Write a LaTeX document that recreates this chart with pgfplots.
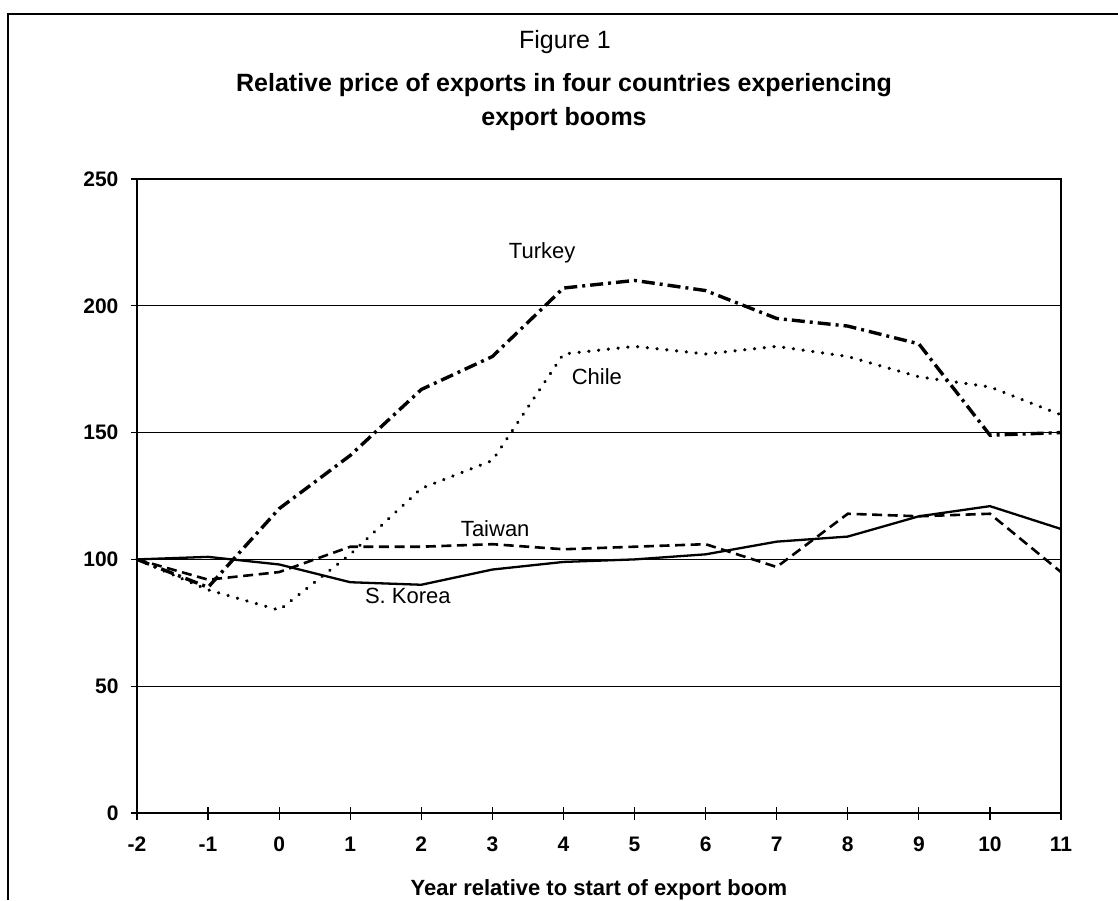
\documentclass[border=0pt]{standalone}
\usepackage{pgfplots}
\pgfplotsset{compat=1.18}
\usepackage{fontspec}
\setmainfont{Liberation Sans}
\begin{document}
\begin{tikzpicture}
\useasboundingbox (0,0) rectangle (559pt,450pt);
\draw[line width=0.6pt] (4pt,0) -- (4pt,443pt) -- (559pt,443pt);
\node[font=\fontsize{12.5}{15}\selectfont] at (282.5pt,429pt) {Figure 1};
\node[font=\fontsize{12.5}{15}\selectfont\bfseries] at (282pt,407.5pt) {Relative price of exports in four countries experiencing};
\node[font=\fontsize{12.5}{15}\selectfont\bfseries] at (282pt,390.5pt) {export booms};
\begin{axis}[
  at={(68.5pt,43.5pt)}, anchor=south west,
  scale only axis, width=462pt, height=317pt,
  xmin=-2, xmax=11, ymin=0, ymax=250,
  xtick={-2,-1,0,1,2,3,4,5,6,7,8,9,10,11},
  xticklabels={-2,-1,0,1,2,3,4,5,6,7,8,9,10,11},
  ytick={0,50,100,150,200,250},
  yticklabels={0,50,100,150,200,250},
  tick pos=left,
  tick align=center,
  major tick length=6.5pt,
  tick style={line width=0.6pt, black},
  axis line style={line width=1.1pt},
  ymajorgrids,
  grid style={line width=0.6pt, black},
  ticklabel style={font=\fontsize{10.5}{12}\selectfont\bfseries},
  xticklabel style={anchor=north, text height=7.5pt, text depth=0pt, yshift=-5pt},
  yticklabel style={xshift=-2.5pt},
  xlabel={Year relative to start of export boom},
  xlabel style={font=\fontsize{11}{13}\selectfont\bfseries, yshift=-7pt},
  clip=false,
]
% Turkey
\addplot[black, line width=1.7pt, dash pattern=on 6.5pt off 2.5pt on 1.5pt off 2.5pt] coordinates {
(-2,100) (-1,89) (0,120) (1,141) (2,167) (3,180) (4,207) (5,210) (6,206) (7,195) (8,192) (9,185) (10,149) (11,150)};
% Chile
\addplot[black, line width=1.7pt, line cap=round, dash pattern=on 0.1pt off 4.8pt] coordinates {
(-2,100) (-1,88) (0,80) (1,102) (2,128) (3,139) (4,181) (5,184) (6,181) (7,184) (8,180) (9,172) (10,168) (11,157)};
% Taiwan
\addplot[black, line width=1.3pt, dash pattern=on 5pt off 2.8pt] coordinates {
(-2,100) (-1,92) (0,95) (1,105) (2,105) (3,106) (4,104) (5,105) (6,106) (7,97) (8,118) (9,117) (10,118) (11,95)};
% S. Korea
\addplot[black, line width=1.15pt] coordinates {
(-2,100) (-1,101) (0,98) (1,91) (2,90) (3,96) (4,99) (5,100) (6,102) (7,107) (8,109) (9,117) (10,121) (11,112)};
\node[font=\fontsize{11}{13}\selectfont] at (axis cs:3.70,221) {Turkey};
\node[font=\fontsize{11}{13}\selectfont] at (axis cs:4.47,172) {Chile};
\node[font=\fontsize{11}{13}\selectfont] at (axis cs:3.04,112) {Taiwan};
\node[font=\fontsize{11}{13}\selectfont] at (axis cs:1.81,85.6) {S. Korea};
\end{axis}
\end{tikzpicture}
\end{document}
